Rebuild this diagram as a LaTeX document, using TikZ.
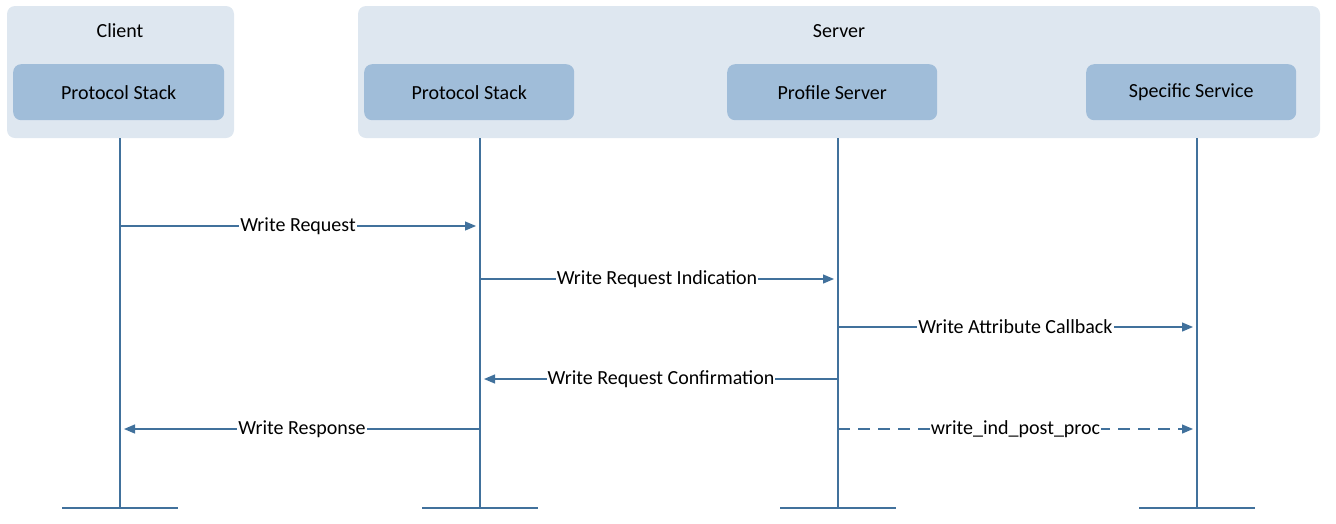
\documentclass[tikz,border=0pt]{standalone}
\usepackage{fontspec}
\setmainfont{Carlito}
\usetikzlibrary{arrows.meta}
\definecolor{outer}{HTML}{DEE7F0}
\definecolor{inner}{HTML}{A0BDD9}
\definecolor{ln}{HTML}{41719C}
\begin{document}
\begin{tikzpicture}[x=1pt,y=-1pt,font=\fontsize{20}{24}\selectfont,
  grp/.style={fill=outer,rounded corners=8pt,draw=none},
  box/.style={fill=inner,rounded corners=8pt,draw=none,minimum width=210pt,minimum height=56pt,anchor=north west},
  life/.style={draw=ln,line width=1.2pt},
  msg/.style={draw=ln,line width=1.2pt,-{Triangle[length=11pt,width=9pt]}},
  lbl/.style={fill=white,inner sep=1pt}]
\useasboundingbox (0,0) rectangle (1336,523);
\fill[grp] (7,6) rectangle (234,138);
\fill[grp] (358,6) rectangle (1320,138);
\node at (120,31) {Client};
\node at (839,31) {Server};
\node[box,minimum width=211pt] (c) at (13,64) {};
\node at (c.center) {Protocol Stack};
\node[box] (p) at (364,64) {};
\node at (p.center) {Protocol Stack};
\node[box] (f) at (727,64) {};
\node at (f.center) {Profile Server};
\node[box] (s) at (1086,64) {};
\node at (s.center) {Specific Service};
\foreach \n/\x in {a/120,b/480,d/838,e/1197}{
  \coordinate (\n t) at (\x,138);
  \coordinate (\n b) at (\x,508);
  \draw[life] (\n t) -- (\n b);
  \draw[life] ([xshift=-58pt]\n b) -- ([xshift=58pt]\n b);
  \foreach \y in {226,279,327,379,429}{\coordinate (\n\y) at (\x,\y);}
}
\draw[msg] (a226) -- node[lbl]{Write Request} ([xshift=-4pt]b226);
\draw[msg] (b279) -- node[lbl]{Write Request Indication} ([xshift=-4pt]d279);
\draw[msg] (d327) -- node[lbl]{Write Attribute Callback} ([xshift=-4pt]e327);
\draw[msg] (d379) -- node[lbl]{Write Request Confirmation} ([xshift=4pt]b379);
\draw[msg] (b429) -- node[lbl]{Write Response} ([xshift=4pt]a429);
\draw[msg,dash pattern=on 12pt off 8pt] (d429) -- node[lbl]{write\_ind\_post\_proc} ([xshift=-4pt]e429);
\end{tikzpicture}
\end{document}
